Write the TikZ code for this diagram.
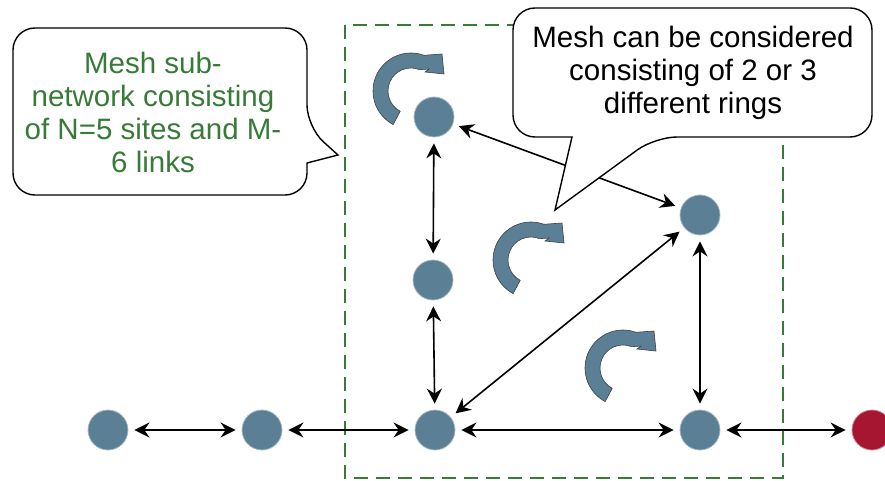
\documentclass[tikz,border=0pt]{standalone}
\usepackage{fontspec}
\setmainfont{Liberation Sans}
\usepackage{tikz}
\usetikzlibrary{arrows.meta}
\usepackage{xcolor}

\definecolor{siteblue}{RGB}{91,127,149}
\definecolor{sitered}{RGB}{166,22,48}
\definecolor{meshgreen}{RGB}{56,122,56}

% curved block arrow round a ring, #1 = centre
\newcommand{\ringarrow}[1]{%
  \filldraw[ring, shift={(#1)}] (118:38) arc[start angle=118, end angle=290, radius=38]
    -- (31,-37) -- (33,-17) -- (14,-19) -- (18,-22) -- (292:23)
    arc[start angle=292, end angle=118, radius=23] -- cycle;}

\begin{document}
\begin{tikzpicture}[
  x=1pt, y=-1pt,
  every node/.style={font=\fontsize{29.5}{33}\selectfont},
  site/.style={circle, fill=siteblue, draw=siteblue!55!white, line width=0.8pt,
               minimum size=40pt, inner sep=0pt},
  exitsite/.style={site, fill=sitered, draw=sitered!55!white},
  duplex/.style={<->, >={Stealth[length=15pt, width=15pt, inset=5pt]},
                 line width=1.6pt, shorten <=6pt, shorten >=6pt},
  ring/.style={fill=siteblue, draw=black!75, line width=0.6pt},
  bubble/.style={draw, fill=white, line width=1.4pt},
  meshbox/.style={draw=meshgreen, line width=1.5pt, dash pattern=on 14pt off 8pt}
]
\useasboundingbox (0,0) rectangle (885,481);

% mesh sub-network frame
\draw[meshbox] (345,25) rectangle (783,478);

% sites
\node[site] (w1) at (108,430) {};
\node[site] (w2) at (262,430) {};
\node[site] (m1) at (435,430) {};
\node[site] (m2) at (700,430) {};
\node[site] (m3) at (434,117) {};
\node[site] (m4) at (433,280) {};
\node[site] (m5) at (700,215) {};
\node[exitsite] (x1) at (872,430) {};

% links
\foreach \i/\j in {w1/w2, w2/m1, m1/m2, m2/x1, m3/m4, m4/m1, m3/m5, m5/m1, m5/m2}
  \draw[duplex] (\i) -- (\j);

% rings
\ringarrow{411,91}
\ringarrow{531,260}
\ringarrow{623,368}

% callouts
\draw[bubble] (160,28) [rounded corners=22pt] -- (307,28) -- (307,127)
  [sharp corners] -- (338,155) -- (307,163) [rounded corners=22pt]
  -- (307,195) -- (13,195) -- (13,28) -- cycle;
\node[text=meshgreen, align=center] (meshnote) at (153,112)
  {Mesh sub-\\network consisting\\of N=5 sites and M-\\6 links};

\draw[bubble] (693,8) [rounded corners=22pt] -- (872,8) -- (872,137) -- (655,137)
  [sharp corners] -- (555,210) -- (572,137) [rounded corners=22pt]
  -- (513,137) -- (513,8) -- cycle;
\node[align=center] (ringnote) at (693,73)
  {Mesh can be considered\\consisting of 2 or 3\\different rings};
\end{tikzpicture}
\end{document}
